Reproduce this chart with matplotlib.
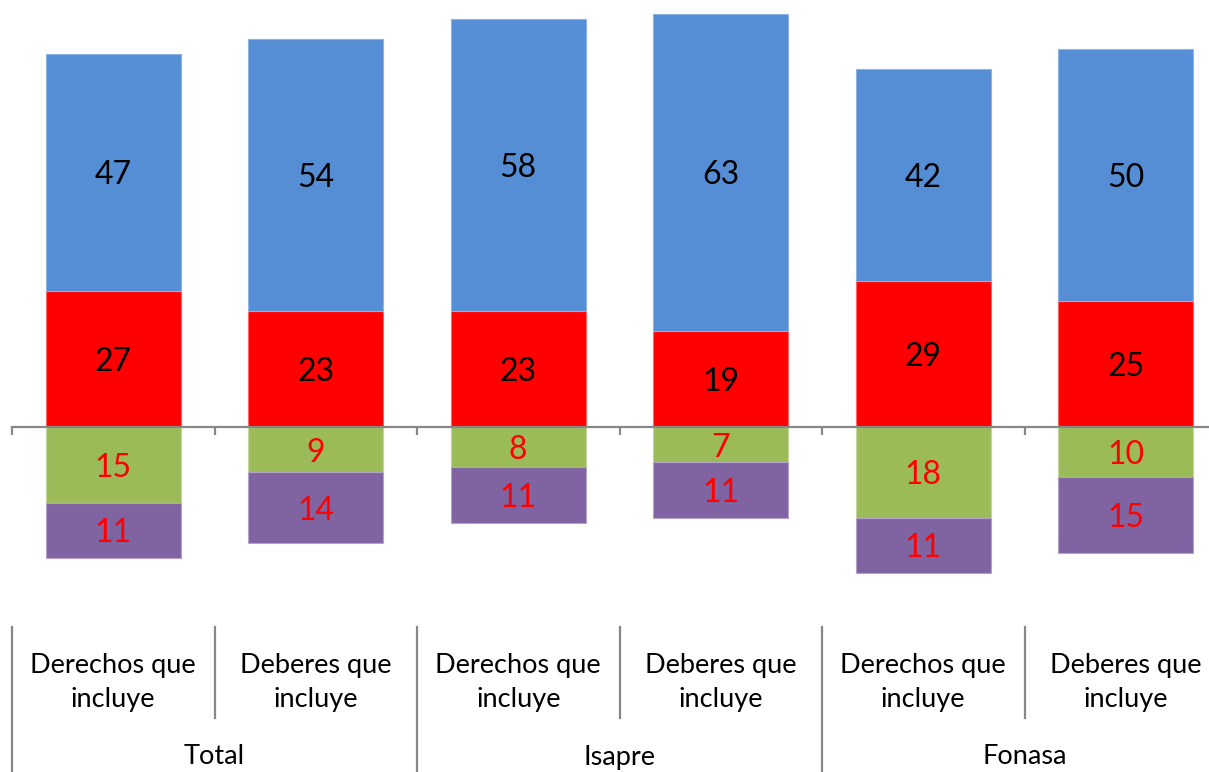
import matplotlib.pyplot as plt
import matplotlib.transforms as mtransforms
import numpy as np

plt.rcParams['font.family'] = ['Lato', 'DejaVu Sans']

# Datos (porcentajes)
categorias = ["Derechos que\nincluye", "Deberes que\nincluye"] * 3
grupos = ["Total", "Isapre", "Fonasa"]
azul = [47, 54, 58, 63, 42, 50]
rojo = [27, 23, 23, 19, 29, 25]
verde = [15, 9, 8, 7, 18, 10]
morado = [11, 14, 11, 11, 11, 15]

c_azul = '#558ED5'
c_rojo = '#FF0000'
c_verde = '#9BBB59'
c_morado = '#8064A2'
gris = '#878787'

W, H = 1209, 772
fig = plt.figure(figsize=(W / 100, H / 100), dpi=100)

# area de barras: desde y=0 hasta y=627 px, eje cero en y=427 px
ax = fig.add_axes([12 / W, (H - 627) / H, (W - 12) / W, 627 / H])
x = np.arange(len(azul))
ancho = 0.667

rojo_a = np.array(rojo)
azul_a = np.array(azul)
verde_a = -np.array(verde)
morado_a = -np.array(morado)

ax.bar(x, rojo_a, ancho, color=c_rojo, edgecolor='#ff6666', linewidth=0.8)
ax.bar(x, azul_a, ancho, bottom=rojo_a, color=c_azul, edgecolor='#8db3e2', linewidth=0.8)
ax.bar(x, verde_a, ancho, color=c_verde, edgecolor='#c3d69b', linewidth=0.8)
ax.bar(x, morado_a, ancho, bottom=verde_a, color=c_morado, edgecolor='#b3a2c7', linewidth=0.8)

# etiquetas centradas en cada segmento
baja = mtransforms.offset_copy(ax.transData, fig=fig, x=0, y=-3, units='dots')
for i in x:
    ax.text(i, rojo_a[i] / 2, str(rojo[i]), ha='center', va='center', fontsize=23, transform=baja)
    ax.text(i, rojo_a[i] + azul_a[i] / 2, str(azul[i]), ha='center', va='center', fontsize=23, transform=baja)
    ax.text(i, verde_a[i] / 2, str(verde[i]), ha='center', va='center', fontsize=23, color='red', transform=baja)
    ax.text(i, verde_a[i] + morado_a[i] / 2, str(morado[i]), ha='center', va='center', fontsize=23, color='red', transform=baja)

px_unidad = 5.04
lim_x = (-0.5, -0.5 + (W - 12) / 202.5)
ax.set_xticks(np.arange(-0.5, len(azul) + 0.5, 1))
ax.set_xticklabels([])
ax.set_xlim(lim_x)
ax.set_ylim(-(627 - 427) / px_unidad, 427 / px_unidad)

for lado in ['top', 'right', 'left']:
    ax.spines[lado].set_visible(False)
ax.spines['bottom'].set_position(('data', 0))
ax.spines['bottom'].set_color(gris)
ax.spines['bottom'].set_linewidth(1.6)
ax.tick_params(axis='x', direction='out', length=6, width=1.6, color=gris)
ax.set_yticks([])

# area de etiquetas de categoria
ax2 = fig.add_axes([12 / W, 0, (W - 12) / W, 145 / H])
ax2.set_xlim(lim_x)
ax2.set_ylim(0, 1)
ax2.axis('off')
y_sub = (H - 718) / 145
for i in range(len(categorias) + 1):
    xb = i - 0.5
    if i % 2 == 0:
        ax2.plot([xb, xb], [0, 1], color=gris, lw=1.6, clip_on=False)
    else:
        ax2.plot([xb, xb], [y_sub, 1], color=gris, lw=1.6, clip_on=False)
for i, cat in enumerate(categorias):
    ax2.text(i, (H - 683) / 145, cat, ha='center', va='center', fontsize=19.5, linespacing=1.45)
for j, g in enumerate(grupos):
    ax2.text(2 * j + 0.5, (H - 757) / 145, g, ha='center', va='center', fontsize=19.5)

fig.savefig('out.png', dpi=100)
